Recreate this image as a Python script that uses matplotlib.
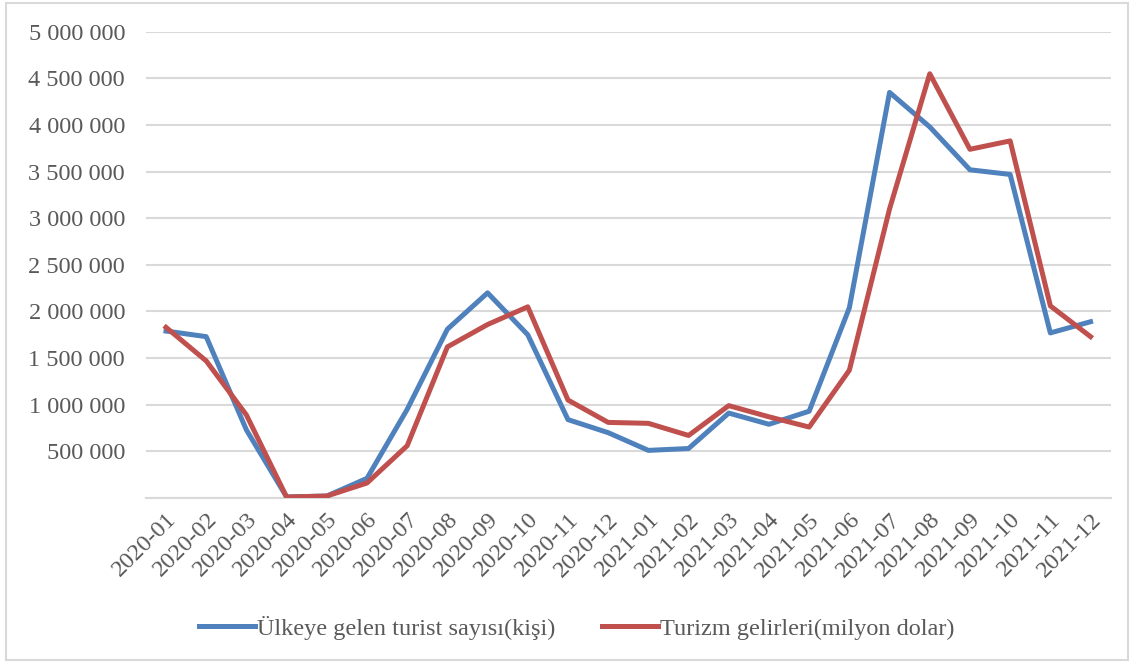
import matplotlib.pyplot as plt
from matplotlib.patches import Rectangle
from matplotlib.ticker import FuncFormatter

plt.rcParams['font.family'] = ['Liberation Serif', 'DejaVu Serif']

months = ['2020-01', '2020-02', '2020-03', '2020-04', '2020-05', '2020-06',
          '2020-07', '2020-08', '2020-09', '2020-10', '2020-11', '2020-12',
          '2021-01', '2021-02', '2021-03', '2021-04', '2021-05', '2021-06',
          '2021-07', '2021-08', '2021-09', '2021-10', '2021-11', '2021-12']

# Ülkeye gelen turist sayısı (kişi)
tourists = [1790000, 1730000, 730000, 10000, 20000, 210000,
            950000, 1810000, 2200000, 1750000, 840000, 700000,
            510000, 530000, 910000, 790000, 930000, 2040000,
            4350000, 3980000, 3520000, 3470000, 1770000, 1890000]

# Turizm gelirleri (milyon dolar)
revenue = [1830000, 1470000, 890000, 10000, 20000, 160000,
           560000, 1620000, 1860000, 2050000, 1050000, 810000,
           800000, 670000, 990000, 870000, 760000, 1370000,
           3100000, 4550000, 3740000, 3830000, 2060000, 1730000]

blue = '#4F81BD'
red = '#C0504D'
grid_c = '#D9D9D9'
text_c = '#595959'

fig = plt.figure(figsize=(11.31, 6.63), dpi=100)
ax = fig.add_axes([0.129, 0.249, 0.853, 0.703])

x = range(len(months))
ax.plot(x, tourists, color=blue, lw=3.6, label='Ülkeye gelen turist sayısı(kişi)', zorder=3)
ax.plot(x, revenue, color=red, lw=3.6, label='Turizm gelirleri(milyon dolar)', zorder=3)

ax.set_xlim(-0.5, len(months) - 0.5)
ax.set_ylim(0, 5000000)
ax.set_yticks(range(0, 5000001, 500000))
ax.yaxis.set_major_formatter(FuncFormatter(
    lambda v, p: '' if v == 0 else f'{int(v):,}'.replace(',', ' ')))
ax.set_xticks(list(x))
ax.set_xticklabels(months, rotation=45, ha='right', rotation_mode='anchor')

ax.grid(axis='y', color=grid_c, lw=1.5)
ax.set_axisbelow(True)
for s in ['left', 'right', 'top']:
    ax.spines[s].set_visible(False)
ax.spines['bottom'].set_color(grid_c)
ax.spines['bottom'].set_linewidth(1.5)
ax.tick_params(length=0, labelsize=17.5, colors=text_c)
ax.tick_params(axis='y', pad=15)
ax.tick_params(axis='x', pad=8)

fig.legend(loc='center', bbox_to_anchor=(0.51, 0.053), ncol=2, frameon=False,
           fontsize=17.5, handlelength=2.3, columnspacing=1.9, labelcolor=text_c,
           handletextpad=0.1)

fig.patches.append(Rectangle((0.005, 0.004), 0.992, 0.991, transform=fig.transFigure,
                             fill=False, edgecolor=grid_c, lw=1.5))

fig.savefig('out.png', dpi=100)
